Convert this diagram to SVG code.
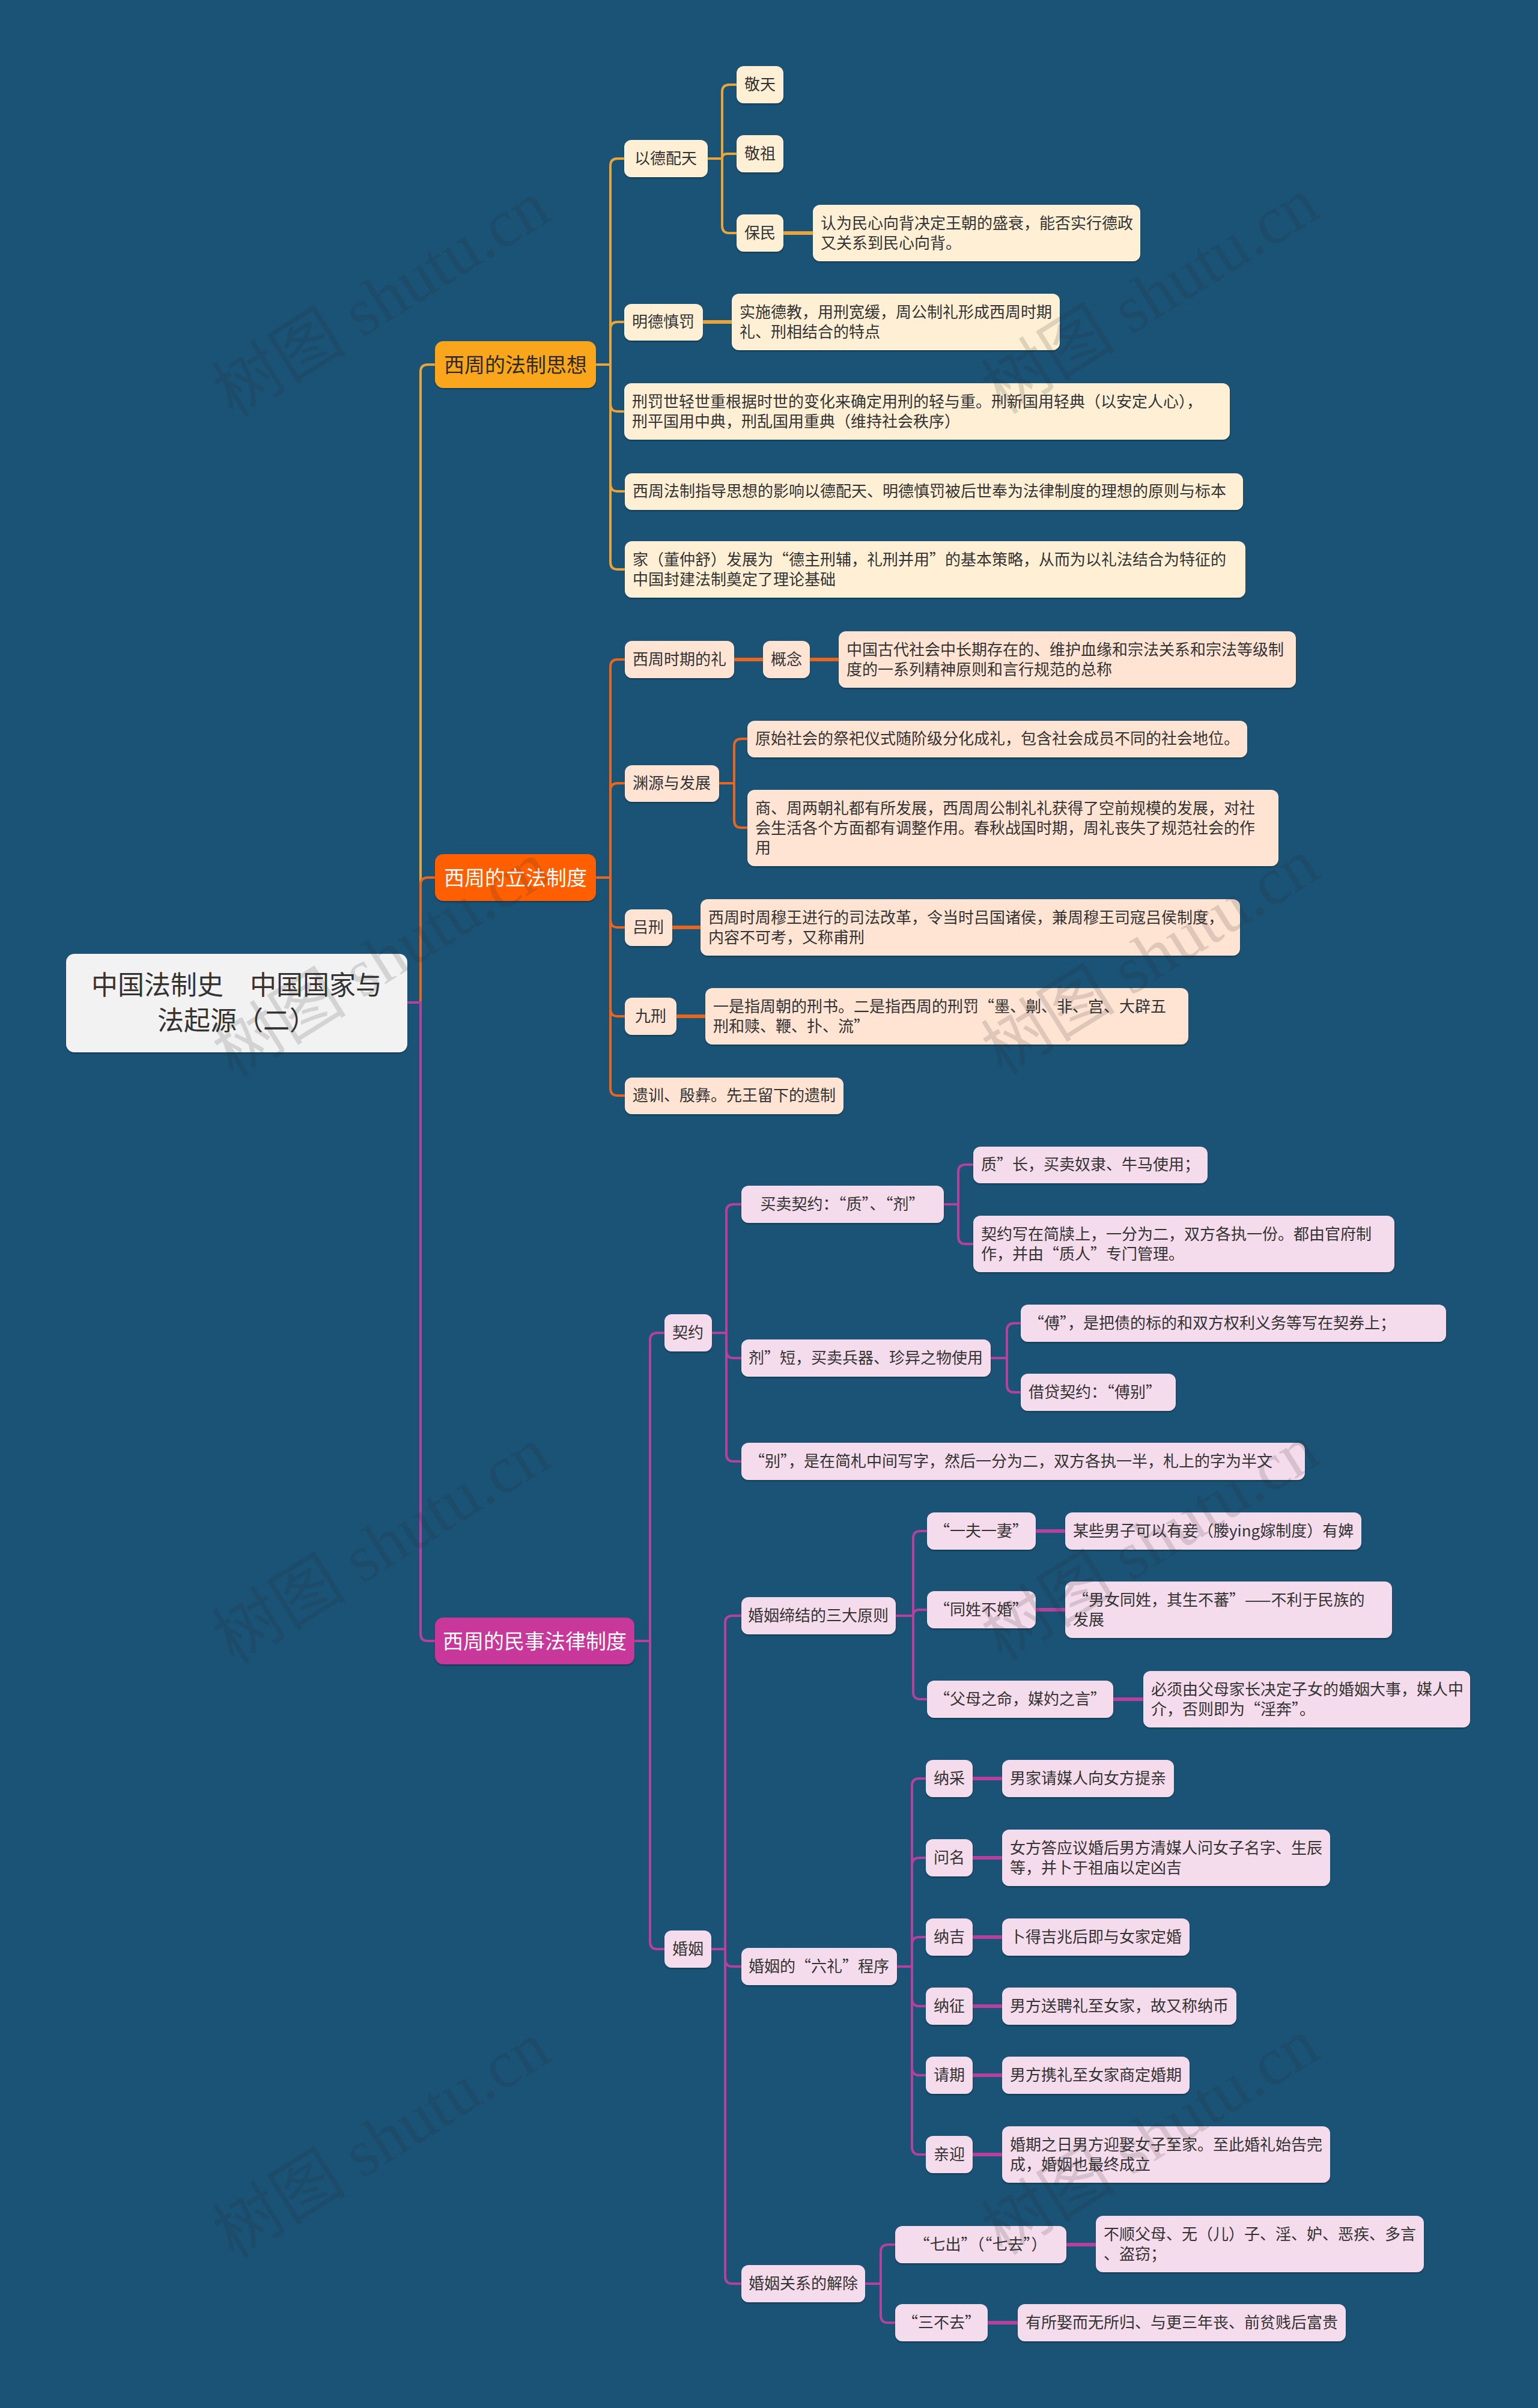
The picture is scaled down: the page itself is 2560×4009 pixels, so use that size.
<svg xmlns="http://www.w3.org/2000/svg" width="2560" height="4009" viewBox="0 0 2560 4009">
<style>
text{font-family:"Noto Sans CJK SC","Noto Sans",sans-serif;}
.t{font-size:26px;fill:#333333;}
.m{text-anchor:middle;}
.c1{fill:#FFF0D5;}
.c2{fill:#FFE4D3;}
.c3{fill:#F5DCEC;}
.bt{font-size:34px;text-anchor:middle;}
.l{fill:none;stroke-width:4;stroke-linecap:round;}
.s{stroke-width:6;}
.l1{stroke:#E9A43A;}
.l2{stroke:#E8661E;}
.l3{stroke:#B5409E;}
.wm{font-family:"Liberation Serif","Noto Sans CJK SC",serif;font-size:112px;fill:#2a2a2a;opacity:0.15;text-anchor:middle;}
</style>
<defs>
<filter id="sh" x="-5%" y="-10%" width="110%" height="130%">
<feDropShadow dx="0" dy="2" stdDeviation="1" flood-color="#000000" flood-opacity="0.3"/>
</filter>
</defs>
<rect x="0" y="0" width="2560" height="4009" fill="#1A5376"/>

<g id="connectors">
<path class="l l1" d="M678 1669H700V619Q700 607 712 607H724"/>
<path class="l l1" d="M992 607H1016V276Q1016 264 1028 264H1039M992 607H1016V548Q1016 536 1028 536H1039M992 607H1016V673Q1016 685 1028 685H1039M992 607H1016V806Q1016 818 1028 818H1039M992 607H1016V936Q1016 948 1028 948H1039"/>
<path class="l l1" d="M1178 264H1202V153Q1202 141 1214 141H1226M1178 264H1202Q1202 256 1210 256H1226M1178 264H1202V376Q1202 388 1214 388H1226"/>
<path class="l l1 s" d="M1304 388H1353M1170 536H1218"/>

<path class="l l2" d="M678 1669H700V1473Q700 1461 712 1461H724"/>
<path class="l l2" d="M992 1461H1016V1110Q1016 1098 1028 1098H1040M992 1461H1016V1316Q1016 1304 1028 1304H1040M992 1461H1016V1532Q1016 1544 1028 1544H1040M992 1461H1016V1680Q1016 1692 1028 1692H1040M992 1461H1016V1812Q1016 1824 1028 1824H1040"/>
<path class="l l2 s" d="M1222 1098H1270M1348 1098H1396"/>
<path class="l l2" d="M1197 1304H1222V1242Q1222 1230 1234 1230H1244M1197 1304H1222V1366Q1222 1378 1234 1378H1244"/>
<path class="l l2 s" d="M1119 1544H1166M1126 1692H1174"/>

<path class="l l3" d="M678 1669H700V2720Q700 2732 712 2732H724"/>
<path class="l l3" d="M1056 2732H1082V2231Q1082 2219 1094 2219H1106M1056 2732H1082V3233Q1082 3245 1094 3245H1106"/>
<path class="l l3" d="M1185 2219H1209V2017Q1209 2005 1221 2005H1234M1185 2219H1209V2249Q1209 2261 1221 2261H1234M1185 2219H1209V2421Q1209 2433 1221 2433H1234"/>
<path class="l l3" d="M1571 2005H1595V1951Q1595 1939 1607 1939H1620M1571 2005H1595V2059Q1595 2071 1607 2071H1620"/>
<path class="l l3" d="M1649 2261H1676V2215Q1676 2203 1688 2203H1699M1649 2261H1676V2306Q1676 2318 1688 2318H1699"/>
<path class="l l3" d="M1184 3245H1207V2702Q1207 2690 1219 2690H1234M1184 3245H1207V3262Q1207 3274 1219 3274H1234M1184 3245H1207V3790Q1207 3802 1219 3802H1234"/>
<path class="l l3" d="M1491 2690H1520V2561Q1520 2549 1532 2549H1543M1491 2690H1520Q1520 2680 1530 2680H1543M1491 2690H1520V2817Q1520 2829 1532 2829H1543"/>
<path class="l l3 s" d="M1724 2549H1773M1724 2680H1773M1853 2829H1903"/>
<path class="l l3" d="M1493 3274H1518V2973Q1518 2961 1530 2961H1541M1493 3274H1518V3105Q1518 3093 1530 3093H1541M1493 3274H1518V3237Q1518 3225 1530 3225H1541M1493 3274H1518V3328Q1518 3340 1530 3340H1541M1493 3274H1518V3443Q1518 3455 1530 3455H1541M1493 3274H1518V3575Q1518 3587 1530 3587H1541"/>
<path class="l l3 s" d="M1619 2961H1668M1619 3093H1668M1619 3225H1668M1619 3340H1668M1619 3455H1668M1619 3587H1668"/>
<path class="l l3" d="M1440 3802H1466V3749Q1466 3737 1478 3737H1490M1440 3802H1466V3855Q1466 3867 1478 3867H1490"/>
<path class="l l3 s" d="M1775 3737H1824M1644 3867H1694"/>
</g>

<g id="root"><rect x="110" y="1588" width="568" height="164" rx="14" fill="#F2F2F2" filter="url(#sh)"/><text x="394" y="1656" style="font-size:44px;fill:#333" text-anchor="middle">中国法制史　中国国家与</text><text x="394" y="1715" style="font-size:44px;fill:#333" text-anchor="middle">法起源（二）</text></g>

<g id="b1"><rect x="724" y="568" width="268" height="78" rx="14" fill="#FAA61A" filter="url(#sh)"/><text class="bt" x="858" y="620" fill="#2b2b2b">西周的法制思想</text></g>
<g id="b2"><rect x="724" y="1422" width="268" height="78" rx="14" fill="#FF5F05" filter="url(#sh)"/><text class="bt" x="858" y="1474" fill="#ffffff">西周的立法制度</text></g>
<g id="b3"><rect x="724" y="2693" width="332" height="78" rx="14" fill="#C8379A" filter="url(#sh)"/><text class="bt" x="890" y="2745" fill="#ffffff">西周的民事法律制度</text></g>

<g id="n-ydpt"><rect class="c1" x="1039" y="233" width="139" height="62" rx="12" filter="url(#sh)"/><text class="t m" x="1108" y="273">以德配天</text></g>
<g id="n-jt"><rect class="c1" x="1226" y="110" width="78" height="62" rx="12" filter="url(#sh)"/><text class="t m" x="1265" y="150">敬天</text></g>
<g id="n-jz"><rect class="c1" x="1226" y="225" width="78" height="62" rx="12" filter="url(#sh)"/><text class="t m" x="1265" y="265">敬祖</text></g>
<g id="n-bm"><rect class="c1" x="1226" y="357" width="78" height="62" rx="12" filter="url(#sh)"/><text class="t m" x="1265" y="397">保民</text></g>
<g id="n-bm-d"><rect class="c1" x="1353" y="341" width="545" height="94" rx="12" filter="url(#sh)"/><text class="t" x="1366" y="381">认为民心向背决定王朝的盛衰，能否实行德政</text><text class="t" x="1366" y="414">又关系到民心向背。</text></g>
<g id="n-mdsf"><rect class="c1" x="1039" y="506" width="131" height="61" rx="12" filter="url(#sh)"/><text class="t m" x="1104" y="545">明德慎罚</text></g>
<g id="n-mdsf-d"><rect class="c1" x="1218" y="489" width="546" height="94" rx="12" filter="url(#sh)"/><text class="t" x="1231" y="529">实施德教，用刑宽缓，周公制礼形成西周时期</text><text class="t" x="1231" y="562">礼、刑相结合的特点</text></g>
<g id="n-xf"><rect class="c1" x="1039" y="638" width="1008" height="94" rx="12" filter="url(#sh)"/><text class="t" x="1052" y="678">刑罚世轻世重根据时世的变化来确定用刑的轻与重。刑新国用轻典（以安定人心），</text><text class="t" x="1052" y="711">刑平国用中典，刑乱国用重典（维持社会秩序）</text></g>
<g id="n-zd"><rect class="c1" x="1040" y="788" width="1029" height="61" rx="12" filter="url(#sh)"/><text class="t" x="1053" y="827">西周法制指导思想的影响以德配天、明德慎罚被后世奉为法律制度的理想的原则与标本</text></g>
<g id="n-dzs"><rect class="c1" x="1040" y="901" width="1033" height="94" rx="12" filter="url(#sh)"/><text class="t" x="1053" y="941">家（董仲舒）发展为“德主刑辅，礼刑并用”的基本策略，从而为以礼法结合为特征的</text><text class="t" x="1053" y="974">中国封建法制奠定了理论基础</text></g>

<g id="n-li"><rect class="c2" x="1040" y="1067" width="182" height="62" rx="12" filter="url(#sh)"/><text class="t m" x="1131" y="1107">西周时期的礼</text></g>
<g id="n-gn"><rect class="c2" x="1270" y="1067" width="78" height="62" rx="12" filter="url(#sh)"/><text class="t m" x="1309" y="1107">概念</text></g>
<g id="n-gn-d"><rect class="c2" x="1396" y="1051" width="761" height="94" rx="12" filter="url(#sh)"/><text class="t" x="1409" y="1091">中国古代社会中长期存在的、维护血缘和宗法关系和宗法等级制</text><text class="t" x="1409" y="1124">度的一系列精神原则和言行规范的总称</text></g>
<g id="n-yy"><rect class="c2" x="1040" y="1274" width="157" height="61" rx="12" filter="url(#sh)"/><text class="t m" x="1118" y="1313">渊源与发展</text></g>
<g id="n-ys"><rect class="c2" x="1244" y="1200" width="832" height="61" rx="12" filter="url(#sh)"/><text class="t" x="1257" y="1239">原始社会的祭祀仪式随阶级分化成礼，包含社会成员不同的社会地位。</text></g>
<g id="n-sz"><rect class="c2" x="1244" y="1315" width="884" height="127" rx="12" filter="url(#sh)"/><text class="t" x="1257" y="1355">商、周两朝礼都有所发展，西周周公制礼礼获得了空前规模的发展，对社</text><text class="t" x="1257" y="1388">会生活各个方面都有调整作用。春秋战国时期，周礼丧失了规范社会的作</text><text class="t" x="1257" y="1421">用</text></g>
<g id="n-lx"><rect class="c2" x="1040" y="1514" width="79" height="61" rx="12" filter="url(#sh)"/><text class="t m" x="1079" y="1553">吕刑</text></g>
<g id="n-lx-d"><rect class="c2" x="1166" y="1497" width="898" height="94" rx="12" filter="url(#sh)"/><text class="t" x="1179" y="1537">西周时周穆王进行的司法改革，令当时吕国诸侯，兼周穆王司寇吕侯制度，</text><text class="t" x="1179" y="1570">内容不可考，又称甫刑</text></g>
<g id="n-jx"><rect class="c2" x="1040" y="1661" width="86" height="62" rx="12" filter="url(#sh)"/><text class="t m" x="1083" y="1701">九刑</text></g>
<g id="n-jx-d"><rect class="c2" x="1174" y="1645" width="804" height="94" rx="12" filter="url(#sh)"/><text class="t" x="1187" y="1685">一是指周朝的刑书。二是指西周的刑罚“墨、劓、非、宫、大辟五</text><text class="t" x="1187" y="1718">刑和赎、鞭、扑、流”</text></g>
<g id="n-yx"><rect class="c2" x="1040" y="1794" width="364" height="61" rx="12" filter="url(#sh)"/><text class="t" x="1053" y="1833">遗训、殷彝。先王留下的遗制</text></g>

<g id="n-qy"><rect class="c3" x="1106" y="2188" width="79" height="62" rx="12" filter="url(#sh)"/><text class="t m" x="1145" y="2228">契约</text></g>
<g id="n-mm"><rect class="c3" x="1234" y="1974" width="337" height="62" rx="12" filter="url(#sh)"/><text class="t m" x="1402" y="2014">买卖契约：“质”、“剂”</text></g>
<g id="n-zc"><rect class="c3" x="1620" y="1909" width="390" height="61" rx="12" filter="url(#sh)"/><text class="t" x="1633" y="1948">质”长，买卖奴隶、牛马使用；</text></g>
<g id="n-qyx"><rect class="c3" x="1620" y="2024" width="701" height="94" rx="12" filter="url(#sh)"/><text class="t" x="1633" y="2064">契约写在简牍上，一分为二，双方各执一份。都由官府制</text><text class="t" x="1633" y="2097">作，并由“质人”专门管理。</text></g>
<g id="n-jd"><rect class="c3" x="1234" y="2230" width="415" height="62" rx="12" filter="url(#sh)"/><text class="t m" x="1441" y="2270">剂”短，买卖兵器、珍异之物使用</text></g>
<g id="n-fu"><rect class="c3" x="1699" y="2172" width="708" height="62" rx="12" filter="url(#sh)"/><text class="t" x="1712" y="2212">“傅”，是把债的标的和双方权利义务等写在契券上；</text></g>
<g id="n-jdqy"><rect class="c3" x="1699" y="2287" width="258" height="62" rx="12" filter="url(#sh)"/><text class="t" x="1712" y="2327">借贷契约：“傅别”</text></g>
<g id="n-bie"><rect class="c3" x="1234" y="2402" width="938" height="62" rx="12" filter="url(#sh)"/><text class="t" x="1247" y="2442">“别”，是在简札中间写字，然后一分为二，双方各执一半，札上的字为半文</text></g>

<g id="n-hy"><rect class="c3" x="1106" y="3214" width="78" height="62" rx="12" filter="url(#sh)"/><text class="t m" x="1145" y="3254">婚姻</text></g>
<g id="n-sdyz"><rect class="c3" x="1234" y="2659" width="257" height="62" rx="12" filter="url(#sh)"/><text class="t m" x="1362" y="2699">婚姻缔结的三大原则</text></g>
<g id="n-yfyq"><rect class="c3" x="1543" y="2518" width="181" height="62" rx="12" filter="url(#sh)"/><text class="t m" x="1633" y="2558">“一夫一妻”</text></g>
<g id="n-yfyq-d"><rect class="c3" x="1773" y="2518" width="493" height="62" rx="12" filter="url(#sh)"/><text class="t" x="1786" y="2558">某些男子可以有妾（媵ying嫁制度）有婢</text></g>
<g id="n-txbh"><rect class="c3" x="1543" y="2649" width="181" height="62" rx="12" filter="url(#sh)"/><text class="t m" x="1633" y="2689">“同姓不婚”</text></g>
<g id="n-txbh-d"><rect class="c3" x="1773" y="2633" width="544" height="94" rx="12" filter="url(#sh)"/><text class="t" x="1786" y="2673">“男女同姓，其生不蕃”——不利于民族的</text><text class="t" x="1786" y="2706">发展</text></g>
<g id="n-fm"><rect class="c3" x="1543" y="2798" width="310" height="62" rx="12" filter="url(#sh)"/><text class="t m" x="1698" y="2838">“父母之命，媒妁之言”</text></g>
<g id="n-fm-d"><rect class="c3" x="1903" y="2782" width="544" height="94" rx="12" filter="url(#sh)"/><text class="t" x="1916" y="2822">必须由父母家长决定子女的婚姻大事，媒人中</text><text class="t" x="1916" y="2855">介，否则即为“淫奔”。</text></g>

<g id="n-ll"><rect class="c3" x="1234" y="3243" width="259" height="62" rx="12" filter="url(#sh)"/><text class="t m" x="1363" y="3283">婚姻的“六礼”程序</text></g>
<g id="n-nc"><rect class="c3" x="1541" y="2930" width="78" height="62" rx="12" filter="url(#sh)"/><text class="t m" x="1580" y="2970">纳采</text></g>
<g id="n-nc-d"><rect class="c3" x="1668" y="2930" width="286" height="62" rx="12" filter="url(#sh)"/><text class="t" x="1681" y="2970">男家请媒人向女方提亲</text></g>
<g id="n-wm"><rect class="c3" x="1541" y="3062" width="78" height="62" rx="12" filter="url(#sh)"/><text class="t m" x="1580" y="3102">问名</text></g>
<g id="n-wm-d"><rect class="c3" x="1668" y="3046" width="546" height="94" rx="12" filter="url(#sh)"/><text class="t" x="1681" y="3086">女方答应议婚后男方清媒人问女子名字、生辰</text><text class="t" x="1681" y="3119">等，并卜于祖庙以定凶吉</text></g>
<g id="n-nj"><rect class="c3" x="1541" y="3194" width="78" height="62" rx="12" filter="url(#sh)"/><text class="t m" x="1580" y="3234">纳吉</text></g>
<g id="n-nj-d"><rect class="c3" x="1668" y="3194" width="312" height="62" rx="12" filter="url(#sh)"/><text class="t" x="1681" y="3234">卜得吉兆后即与女家定婚</text></g>
<g id="n-nz"><rect class="c3" x="1541" y="3309" width="78" height="62" rx="12" filter="url(#sh)"/><text class="t m" x="1580" y="3349">纳征</text></g>
<g id="n-nz-d"><rect class="c3" x="1668" y="3309" width="390" height="62" rx="12" filter="url(#sh)"/><text class="t" x="1681" y="3349">男方送聘礼至女家，故又称纳币</text></g>
<g id="n-qq"><rect class="c3" x="1541" y="3424" width="78" height="62" rx="12" filter="url(#sh)"/><text class="t m" x="1580" y="3464">请期</text></g>
<g id="n-qq-d"><rect class="c3" x="1668" y="3424" width="312" height="62" rx="12" filter="url(#sh)"/><text class="t" x="1681" y="3464">男方携礼至女家商定婚期</text></g>
<g id="n-qy2"><rect class="c3" x="1541" y="3556" width="78" height="62" rx="12" filter="url(#sh)"/><text class="t m" x="1580" y="3596">亲迎</text></g>
<g id="n-qy2-d"><rect class="c3" x="1668" y="3540" width="546" height="94" rx="12" filter="url(#sh)"/><text class="t" x="1681" y="3580">婚期之日男方迎娶女子至家。至此婚礼始告完</text><text class="t" x="1681" y="3613">成，婚姻也最终成立</text></g>

<g id="n-jc"><rect class="c3" x="1234" y="3771" width="206" height="62" rx="12" filter="url(#sh)"/><text class="t m" x="1337" y="3811">婚姻关系的解除</text></g>
<g id="n-qc"><rect class="c3" x="1490" y="3706" width="285" height="62" rx="12" filter="url(#sh)"/><text class="t m" x="1632" y="3746">“七出”（“七去”）</text></g>
<g id="n-qc-d"><rect class="c3" x="1824" y="3689" width="546" height="94" rx="12" filter="url(#sh)"/><text class="t" x="1837" y="3729">不顺父母、无（儿）子、淫、妒、恶疾、多言</text><text class="t" x="1837" y="3762">、盗窃；</text></g>
<g id="n-sbq"><rect class="c3" x="1490" y="3836" width="154" height="62" rx="12" filter="url(#sh)"/><text class="t m" x="1567" y="3876">“三不去”</text></g>
<g id="n-sbq-d"><rect class="c3" x="1694" y="3836" width="546" height="62" rx="12" filter="url(#sh)"/><text class="t" x="1707" y="3876">有所娶而无所归、与更三年丧、前贫贱后富贵</text></g>

<g id="watermarks">
<text class="wm" transform="translate(655 530) rotate(-32)">树图 shutu.cn</text>
<text class="wm" transform="translate(1935 525) rotate(-32)">树图 shutu.cn</text>
<text class="wm" transform="translate(655 1630) rotate(-32)">树图 shutu.cn</text>
<text class="wm" transform="translate(1935 1625) rotate(-32)">树图 shutu.cn</text>
<text class="wm" transform="translate(655 2605) rotate(-32)">树图 shutu.cn</text>
<text class="wm" transform="translate(1935 2600) rotate(-32)">树图 shutu.cn</text>
<text class="wm" transform="translate(655 3595) rotate(-32)">树图 shutu.cn</text>
<text class="wm" transform="translate(1935 3590) rotate(-32)">树图 shutu.cn</text>
</g>
</svg>
